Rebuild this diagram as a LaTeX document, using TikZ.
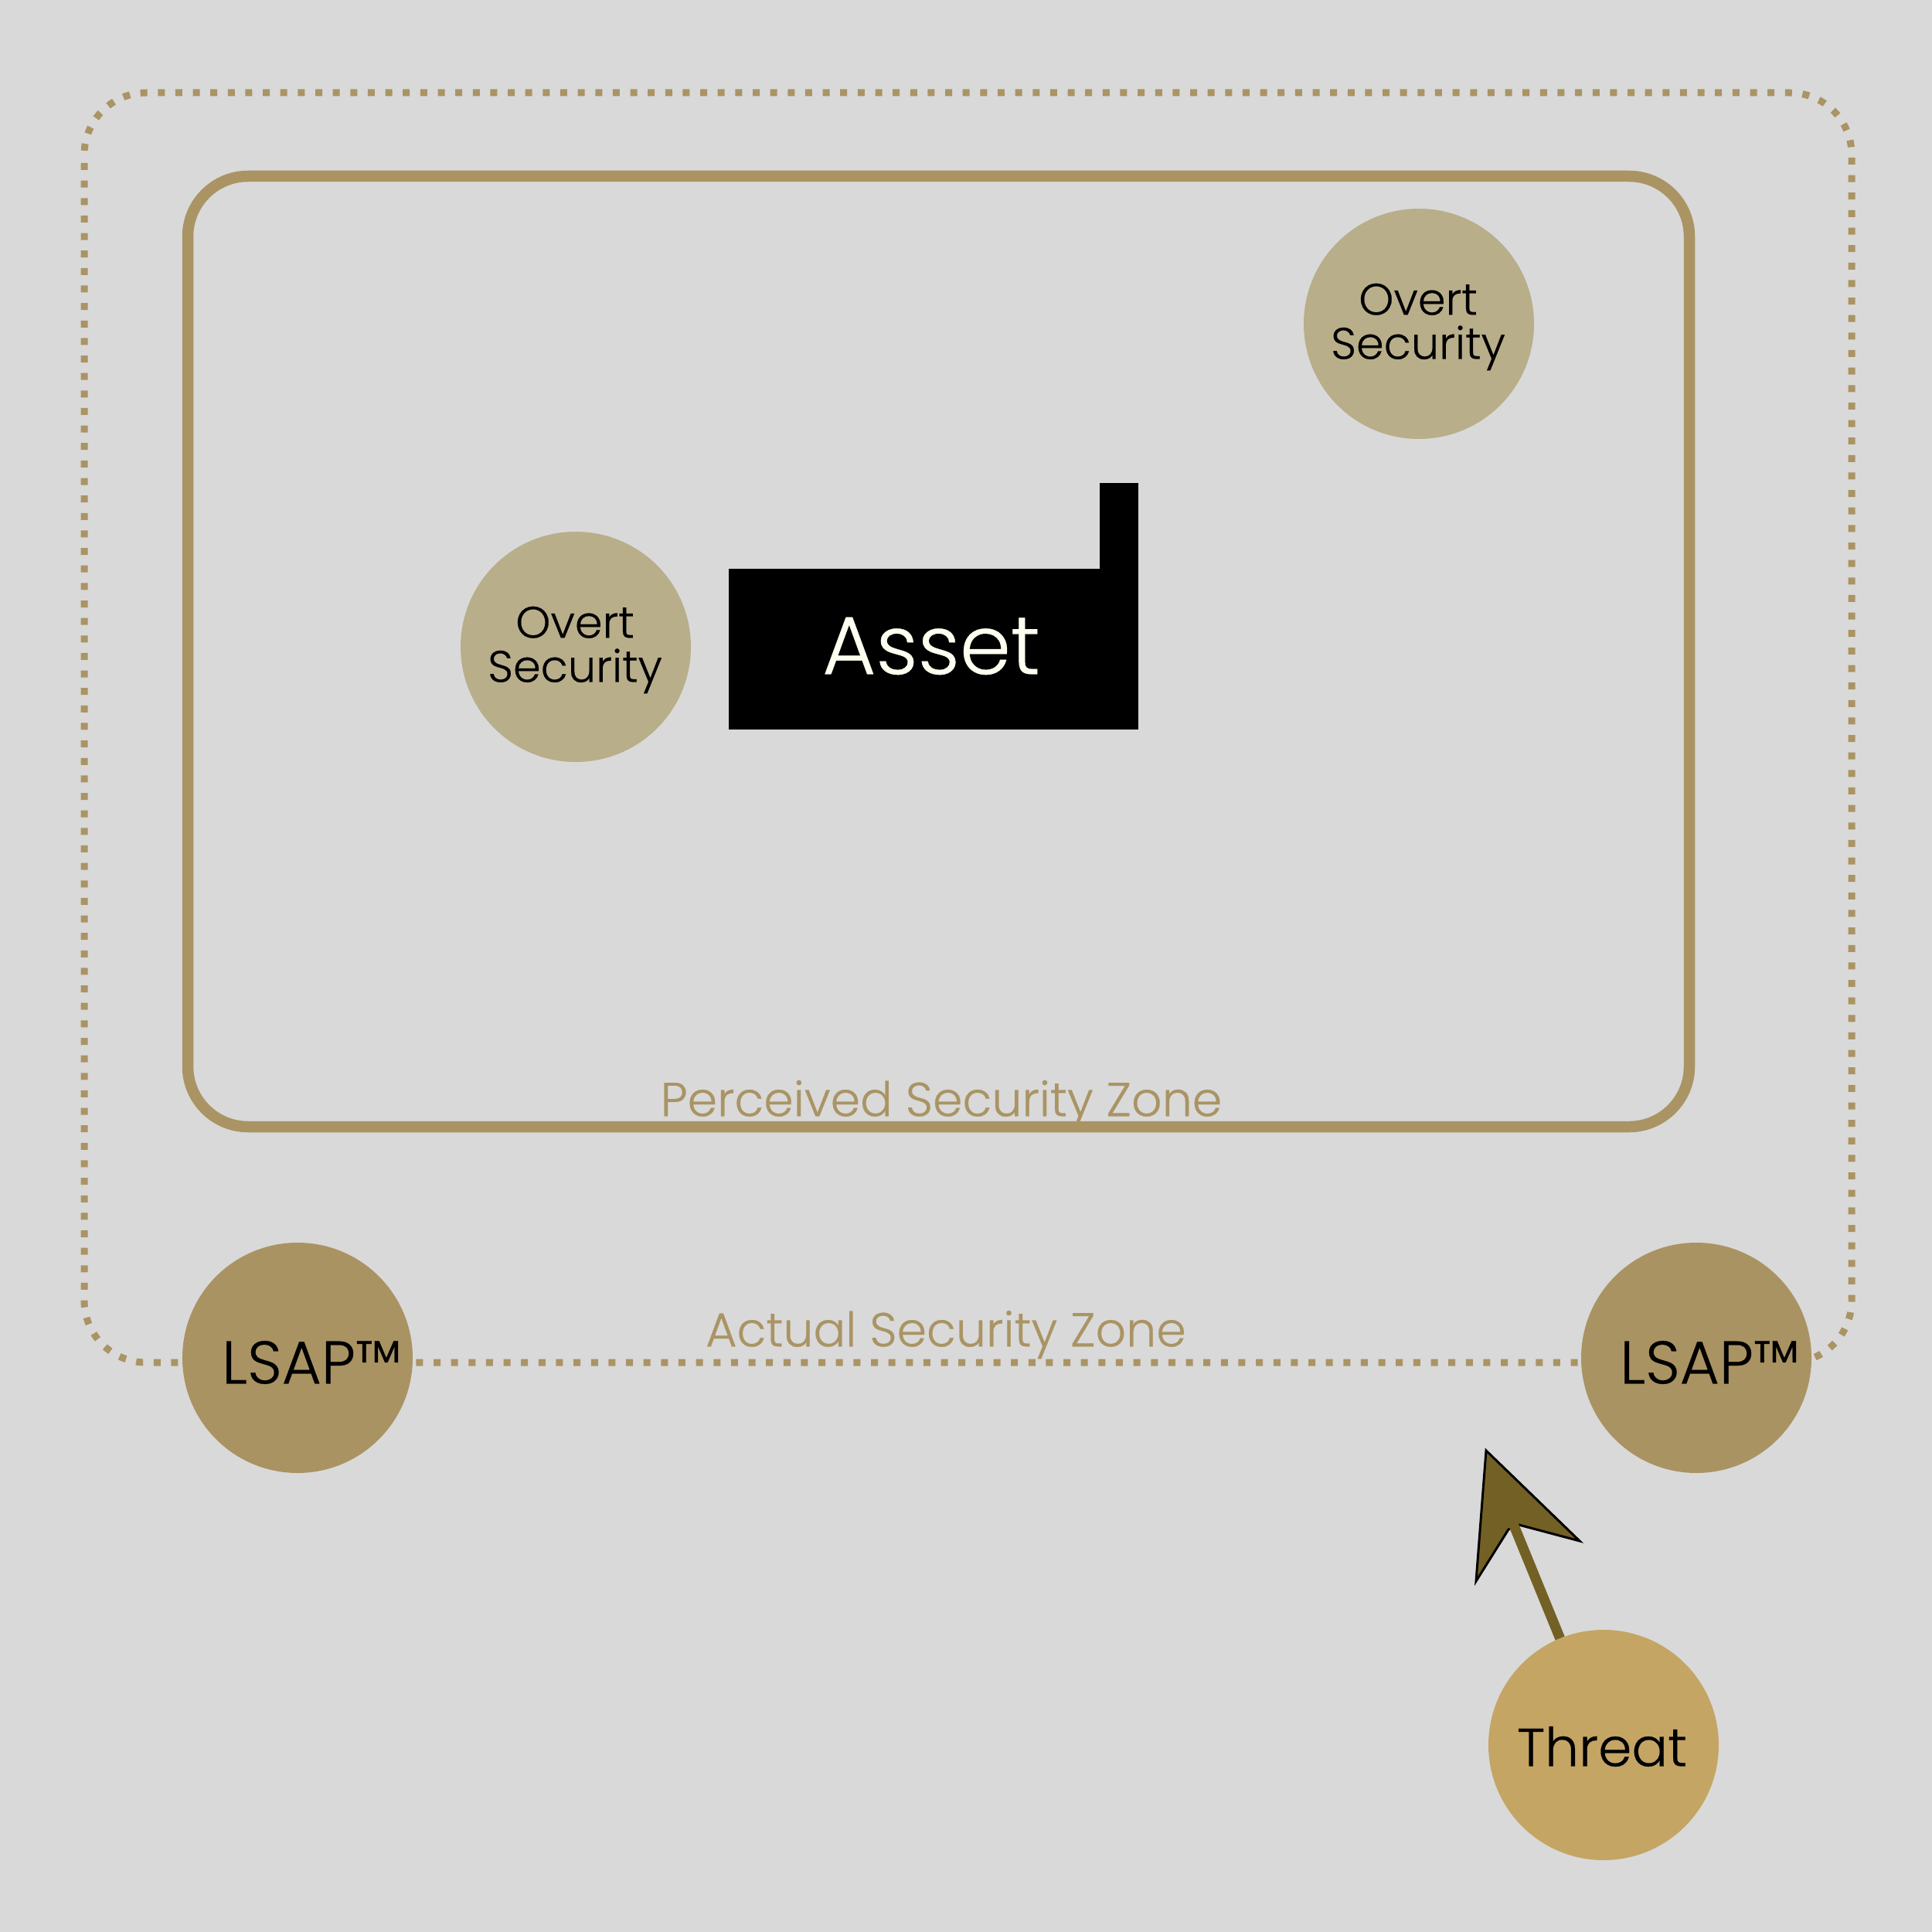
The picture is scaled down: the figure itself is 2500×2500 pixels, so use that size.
\documentclass[tikz,border=0pt]{standalone}
\usepackage{fontspec}
\setmainfont[FakeBold=0.35]{Poppins Light}
\definecolor{bg}{HTML}{D9D9D9}
\definecolor{tan}{HTML}{AA9464}
\definecolor{pale}{HTML}{B8AE8A}
\definecolor{lsap}{HTML}{AA9362}
\definecolor{threat}{HTML}{C4A564}
\definecolor{arrowc}{HTML}{736024}
\definecolor{ivory}{HTML}{FFFFF0}
\tikzset{x=0.04cm,y=-0.04cm,
 disc/.style={circle,minimum size=298*0.04cm,inner sep=0pt},
 disctext/.style={inner sep=0pt,align=center,text=black},
 zonelabel/.style={text=tan,font=\fontsize{70.3}{72}\selectfont,inner sep=0pt},
 overtfont/.style={font=\fontsize{65.3}{65}\selectfont},
 lsapfont/.style={font=\fontsize{89}{90}\selectfont},
}
\begin{document}
\begin{tikzpicture}
\fill[bg] (0,0) rectangle (2500,2500);
\useasboundingbox (0,0) rectangle (2500,2500);
\coordinate (dotstart) at (109,211);
\coordinate (dotend) at (109,202);
\draw[tan,line width=9*0.04cm,dash pattern=on 9*0.04cm off 13.64*0.04cm,rounded corners=80*0.04cm] (dotstart) -- (109,1763) -- (2396,1763) -- (2396,120) -- (109,120) -- (dotend);
\draw[tan,line width=14.5*0.04cm,rounded corners=78*0.04cm] (243,228) rectangle (2186,1458);
\node[zonelabel] (pz) at (1218,1429) {Perceived Security Zone};
\node[zonelabel] (az) at (1224,1727) {Actual Security Zone};
\fill[black] (943,736) rectangle (1473,944);
\fill[black] (1423,625) rectangle (1473,790);
\node[text=ivory,font=\fontsize{121}{124}\selectfont,inner sep=0pt] (asset) at (1205,836) {Asset};
\node[disc,fill=pale] (o1) at (745,837) {};
\node[disc,fill=pale] (o2) at (1836,419) {};
\node[disc,fill=lsap] (l1) at (385,1757) {};
\node[disc,fill=lsap] (l2) at (2195,1757) {};
\node[disc,fill=threat] (th) at (2075,2258) {};
\node[disctext,overtfont] (o1t) at (744,841) {Overt\\Security};
\node[disctext,overtfont] (o2t) at (1835,423) {Overt\\Security};
\node[disctext,lsapfont] (l1t) at (403,1763) {LSAP™};
\node[disctext,lsapfont] (l2t) at (2212,1763) {LSAP™};
\node[disctext,font=\fontsize{79}{80}\selectfont] (tht) at (2073,2260) {Threat};
\coordinate (tip) at (1923,1877);
\coordinate (neck) at (1957,1969);
\filldraw[fill=arrowc,draw=black,line width=3*0.04cm] (tip) -- (2044,1994) -- (1965,1973) -- (1952,1979) -- (1910,2046) -- cycle;
\draw[arrowc,line width=13*0.04cm] (th) -- (neck);
\end{tikzpicture}
\end{document}
